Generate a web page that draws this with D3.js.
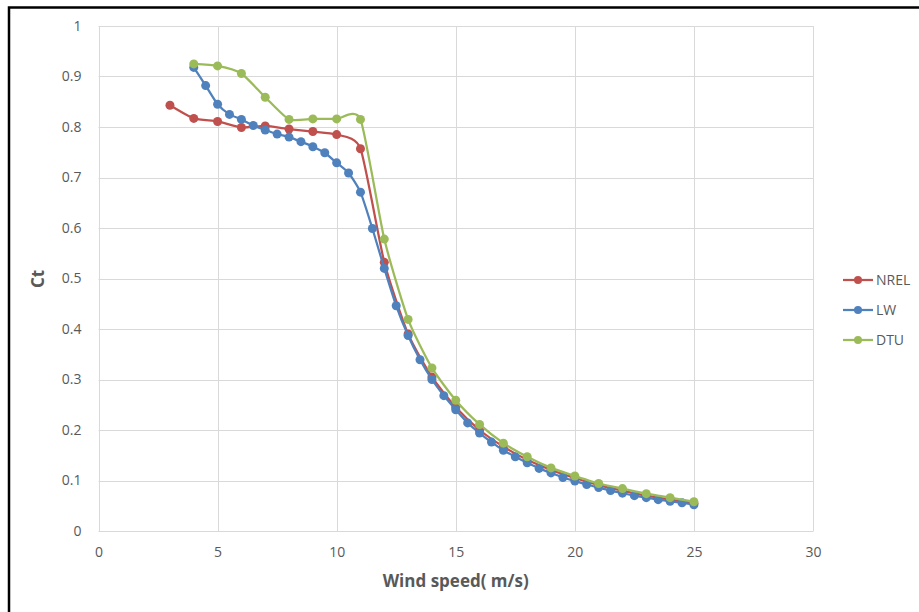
<!DOCTYPE html>
<html>
<head>
<meta charset="utf-8">
<script src="https://cdn.jsdelivr.net/npm/d3@7/dist/d3.min.js"></script>
<style>
  html, body { margin: 0; padding: 0; background: #fff; }
  svg { display: block; }
  text { font-family: "Open Sans", "Noto Sans", sans-serif; }
</style>
</head>
<body>
<svg id="chart" width="919" height="612"></svg>
<script>
// Thrust coefficient curves for three turbine models
const nrelSpeed = [3, 4, 5, 6, 7, 8, 9, 10, 11, 12, 13, 14, 15, 16, 17, 18, 19, 20, 21, 22, 23, 24, 25];
const nrelCt = [0.843, 0.817, 0.811, 0.799, 0.802, 0.796, 0.791, 0.785, 0.757, 0.532, 0.390, 0.305, 0.245, 0.200, 0.167, 0.141, 0.121, 0.105, 0.091, 0.080, 0.070, 0.062, 0.055];

const lwSpeed = [4, 4.5, 5, 5.5, 6, 6.5, 7, 7.5, 8, 8.5, 9, 9.5, 10, 10.5, 11, 11.5, 12, 12.5, 13, 13.5, 14, 14.5, 15, 15.5, 16, 16.5, 17, 17.5, 18, 18.5, 19, 19.5, 20, 20.5, 21, 21.5, 22, 22.5, 23, 23.5, 24, 24.5, 25];
const lwCt = [0.918, 0.882, 0.845, 0.825, 0.815, 0.803, 0.794, 0.786, 0.780, 0.771, 0.761, 0.749, 0.729, 0.709, 0.671, 0.599, 0.520, 0.446, 0.387, 0.339, 0.300, 0.268, 0.240, 0.214, 0.194, 0.176, 0.160, 0.147, 0.135, 0.124, 0.115, 0.106, 0.099, 0.092, 0.086, 0.080, 0.075, 0.070, 0.066, 0.062, 0.059, 0.056, 0.052];

const dtuSpeed = [4, 5, 6, 7, 8, 9, 10, 11, 12, 13, 14, 15, 16, 17, 18, 19, 20, 21, 22, 23, 24, 25];
const dtuCt = [0.925, 0.921, 0.906, 0.859, 0.815, 0.816, 0.816, 0.815, 0.578, 0.419, 0.323, 0.259, 0.211, 0.174, 0.147, 0.125, 0.109, 0.094, 0.084, 0.074, 0.066, 0.058];

const xTicks = [0, 5, 10, 15, 20, 25, 30];
const yTicks = [0, 0.1, 0.2, 0.3, 0.4, 0.5, 0.6, 0.7, 0.8, 0.9, 1];

const seriesNames = ["NREL", "LW", "DTU"];
const seriesColors = ["#C0504D", "#4F81BD", "#9BBB59"];

const series = [
  { name: seriesNames[0], color: seriesColors[0], xs: nrelSpeed, ys: nrelCt },
  { name: seriesNames[1], color: seriesColors[1], xs: lwSpeed, ys: lwCt },
  { name: seriesNames[2], color: seriesColors[2], xs: dtuSpeed, ys: dtuCt }
];

const svg = d3.select("#chart");

// Outer frame (top and left edges visible)
svg.append("rect")
  .attr("x", 9).attr("y", 7.5)
  .attr("width", 940).attr("height", 640)
  .attr("fill", "none").attr("stroke", "#000").attr("stroke-width", 2.5);

const plot = { left: 98.5, right: 813, top: 26, bottom: 531 };

const x = d3.scaleLinear().domain([0, 30]).range([plot.left, plot.right]);
const y = d3.scaleLinear().domain([0, 1]).range([plot.bottom, plot.top]);

// Gridlines
const grid = svg.append("g");
grid.selectAll("line.h").data(yTicks).join("line")
  .attr("x1", plot.left).attr("x2", plot.right)
  .attr("y1", d => Math.round(y(d)) + 0.5).attr("y2", d => Math.round(y(d)) + 0.5)
  .attr("stroke", "#d9d9d9").attr("stroke-width", 1);
grid.selectAll("line.v").data(xTicks).join("line")
  .attr("y1", plot.top).attr("y2", plot.bottom)
  .attr("x1", d => Math.round(x(d)) + 0.5).attr("x2", d => Math.round(x(d)) + 0.5)
  .attr("stroke", "#d9d9d9").attr("stroke-width", 1);

// Axes (labels only; lines handled by the grid)
const xAxis = svg.append("g")
  .attr("transform", `translate(0,${plot.bottom})`)
  .call(d3.axisBottom(x).tickValues(xTicks).tickSize(0).tickPadding(16).tickFormat(d3.format("d")));
xAxis.select(".domain").attr("stroke", "#d9d9d9");
xAxis.selectAll("text").attr("fill", "#595959").attr("font-size", 14);

const yAxis = svg.append("g")
  .attr("transform", `translate(${plot.left},0)`)
  .call(d3.axisLeft(y).tickValues(yTicks).tickSize(0).tickPadding(17).tickFormat(d => d === 0 || d === 1 ? d3.format("d")(d) : d3.format(".1f")(d)));
yAxis.select(".domain").remove();
yAxis.selectAll("text").attr("fill", "#595959").attr("font-size", 14);

// Axis titles
svg.append("text")
  .attr("x", (plot.left + plot.right) / 2).attr("y", 587)
  .attr("text-anchor", "middle")
  .attr("font-size", 17).attr("font-weight", "bold").attr("fill", "#595959")
  .text("Wind speed( m/s)");

svg.append("text")
  .attr("transform", "translate(44,279) rotate(-90)")
  .attr("text-anchor", "middle")
  .attr("font-size", 17).attr("font-weight", "bold").attr("fill", "#595959")
  .text("Ct");

// Smoothed series lines with markers
const line = d3.line()
  .x(d => x(d[0])).y(d => y(d[1]))
  .curve(d3.curveCardinal.tension(0.4));

const gSeries = svg.append("g");
series.forEach(s => {
  const pts = s.xs.map((v, i) => [v, s.ys[i]]);
  const g = gSeries.append("g");
  g.append("path")
    .attr("d", line(pts))
    .attr("fill", "none").attr("stroke", s.color).attr("stroke-width", 2.25);
  g.selectAll("circle").data(pts).join("circle")
    .attr("cx", d => x(d[0])).attr("cy", d => y(d[1])).attr("r", 4.5)
    .attr("fill", s.color);
});

// Legend
const legend = svg.append("g").attr("transform", "translate(843,280)");
series.forEach((s, i) => {
  const row = legend.append("g").attr("transform", `translate(0,${i * 30})`);
  row.append("line").attr("x1", 0).attr("x2", 30).attr("y1", 0).attr("y2", 0)
    .attr("stroke", s.color).attr("stroke-width", 2.25);
  row.append("circle").attr("cx", 15).attr("cy", 0).attr("r", 4).attr("fill", s.color);
  row.append("text").attr("x", 33).attr("y", 5)
    .attr("font-size", 14).attr("fill", "#595959").text(s.name);
});
</script>
</body>
</html>
